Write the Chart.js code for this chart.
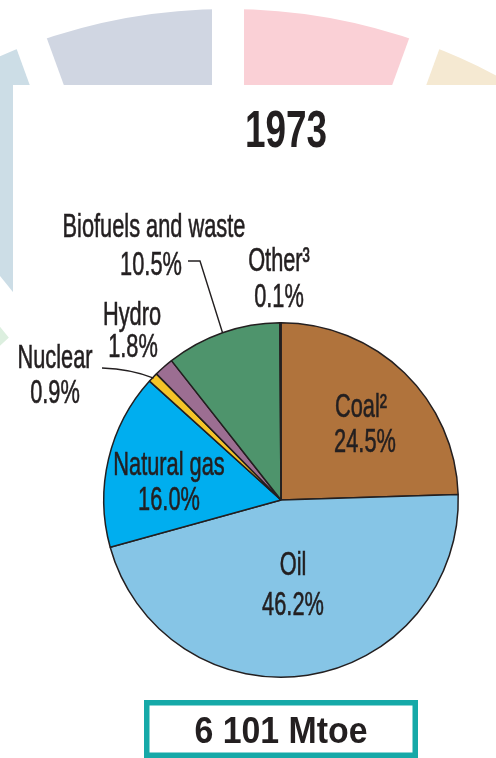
<!DOCTYPE html>
<html lang="en">

<head>
	<meta charset="UTF-8">
	<title>1973 - Total primary energy supply by fuel</title>
	<script src="https://cdn.jsdelivr.net/npm/chart.js"></script>
	<style>
		html, body { margin: 0; padding: 0; background: #fff; }
		#wrap { position: relative; width: 496px; height: 758px; overflow: hidden; }
		#fuelChart { position: absolute; left: 0; top: 0; }
	</style>
</head>

<body>
	<div id="wrap">
		<canvas id="fuelChart" width="496" height="758"></canvas>
	</div>
	<script>
	// chart data
	const year = '1973';
	const totalSupply = '6 101 Mtoe';
	const categories = ['Coal', 'Oil', 'Natural gas', 'Nuclear', 'Hydro', 'Biofuels and waste', 'Other'];
	const labelNames = ['Coal²', 'Oil', 'Natural gas', 'Nuclear', 'Hydro', 'Biofuels and waste', 'Other³'];
	const shares = [24.5, 46.2, 16.0, 0.9, 1.8, 10.5, 0.1];
	const sliceColors = ['#B0733C', '#86C5E6', '#00AEEF', '#F5C428', '#9C6E92', '#4E946C', '#808080'];

	// label placement (offsets from pie centre: name baseline, percent baseline)
	const labelSpots = [
		[[80, -83], [84, -48]],
		[[12, 75], [12, 115]],
		[[-112, -25], [-112, 10]],
		[[-226, -132], [-226, -97]],
		[[-149, -175], [-148, -143]],
		[[-127, -263], [-130, -225]],
		[[-2, -229], [-2, -193]]
	];

	const FONT = '"Liberation Sans", Arial, sans-serif';
	const INK = '#231F20';

	function narrowText(ctx, text, x, y, font, sx, heavy) {
		ctx.save();
		ctx.translate(x, y);
		ctx.scale(sx, 1);
		ctx.font = font;
		ctx.fillStyle = INK;
		ctx.textAlign = 'center';
		ctx.textBaseline = 'alphabetic';
		ctx.fillText(text, 0, 0);
		if(heavy) {
			ctx.strokeStyle = INK;
			ctx.lineWidth = heavy;
			ctx.strokeText(text, 0, 0);
		}
		ctx.restore();
	}

	// faint ring of the page behind the figure
	function drawBackdrop(ctx) {
		const cx = 228, cy = 583, R = 574, r = 329;
		const rad = d => (d - 90) * Math.PI / 180;
		const bands = [
			[-70, -39, '#DCEFDF'],
			[-39, -20, '#CCDDE6'],
			[-20, 0, '#D0D6E2'],
			[0, 20, '#FAD0D6'],
			[20, 50, '#F5E9D2']
		];
		ctx.save();
		bands.forEach(([a1, a2, c]) => {
			ctx.beginPath();
			ctx.arc(cx, cy, R, rad(a1), rad(a2));
			ctx.arc(cx, cy, r, rad(a2), rad(a1), true);
			ctx.closePath();
			ctx.fillStyle = c;
			ctx.fill();
		});
		ctx.strokeStyle = '#fff';
		ctx.lineWidth = 32;
		[-39, -20, 0, 20].forEach(a => {
			ctx.beginPath();
			ctx.moveTo(cx, cy);
			ctx.lineTo(cx + (R + 20) * Math.cos(rad(a)), cy + (R + 20) * Math.sin(rad(a)));
			ctx.stroke();
		});
		ctx.fillStyle = '#fff';
		ctx.fillRect(13, 85, 483, 673);
		ctx.restore();
	}

	function edgePoint(arc, r) {
		const mid = (arc.startAngle + arc.endAngle) / 2;
		return [arc.x + Math.cos(mid) * r, arc.y + Math.sin(mid) * r];
	}

	const labelPlugin = {
		id: 'pieLabels',
		beforeDraw(chart) {
			drawBackdrop(chart.ctx);
		},
		afterDraw(chart) {
			const ctx = chart.ctx;
			const arcs = chart.getDatasetMeta(0).data;
			const cx = arcs[0].x, cy = arcs[0].y;
			const R = arcs[0].outerRadius;

			// title
			narrowText(ctx, year, 286, 147, 'bold 52px ' + FONT, 0.71);

			// slice labels
			const f = '33px ' + FONT;
			labelNames.forEach((name, i) => {
				const [n, p] = labelSpots[i];
				narrowText(ctx, name, cx + n[0], cy + n[1], f, 0.66, 0.6);
				narrowText(ctx, shares[i].toFixed(1) + '%', cx + p[0], cy + p[1], f, 0.66, 0.6);
			});

			// leader lines
			ctx.save();
			ctx.strokeStyle = INK;
			ctx.lineWidth = 1.4;
			let [ex, ey] = edgePoint(arcs[5], R);
			ctx.beginPath();
			ctx.moveTo(cx - 93, cy - 239);
			ctx.lineTo(cx - 81, cy - 239);
			ctx.lineTo(ex, ey);
			ctx.stroke();
			[ex, ey] = edgePoint(arcs[3], R - 1);
			ctx.beginPath();
			ctx.moveTo(cx - 179, cy - 132);
			ctx.quadraticCurveTo(cx - 150, cy - 131, ex, ey);
			ctx.stroke();
			ctx.restore();

			// total box
			ctx.save();
			ctx.strokeStyle = '#16A9A8';
			ctx.lineWidth = 5.5;
			ctx.strokeRect(146.75, 702.75, 268.5, 52.5);
			ctx.restore();
			narrowText(ctx, totalSupply, 281, 743, 'bold 36px ' + FONT, 0.94);
		}
	};

	const ctx = document.getElementById('fuelChart').getContext('2d');
	new Chart(ctx, {
		type: 'pie',
		data: {
			labels: categories,
			datasets: [{
				data: shares,
				backgroundColor: sliceColors,
				borderColor: INK,
				borderWidth: 1.5
			}]
		},
		options: {
			responsive: false,
			animation: false,
			devicePixelRatio: 1,
			layout: {
				padding: { left: 103, right: 37, top: 322, bottom: 80 }
			},
			plugins: {
				legend: { display: false },
				tooltip: { enabled: false },
				title: { display: false }
			}
		},
		plugins: [labelPlugin]
	});
	</script>
</body>

</html>
